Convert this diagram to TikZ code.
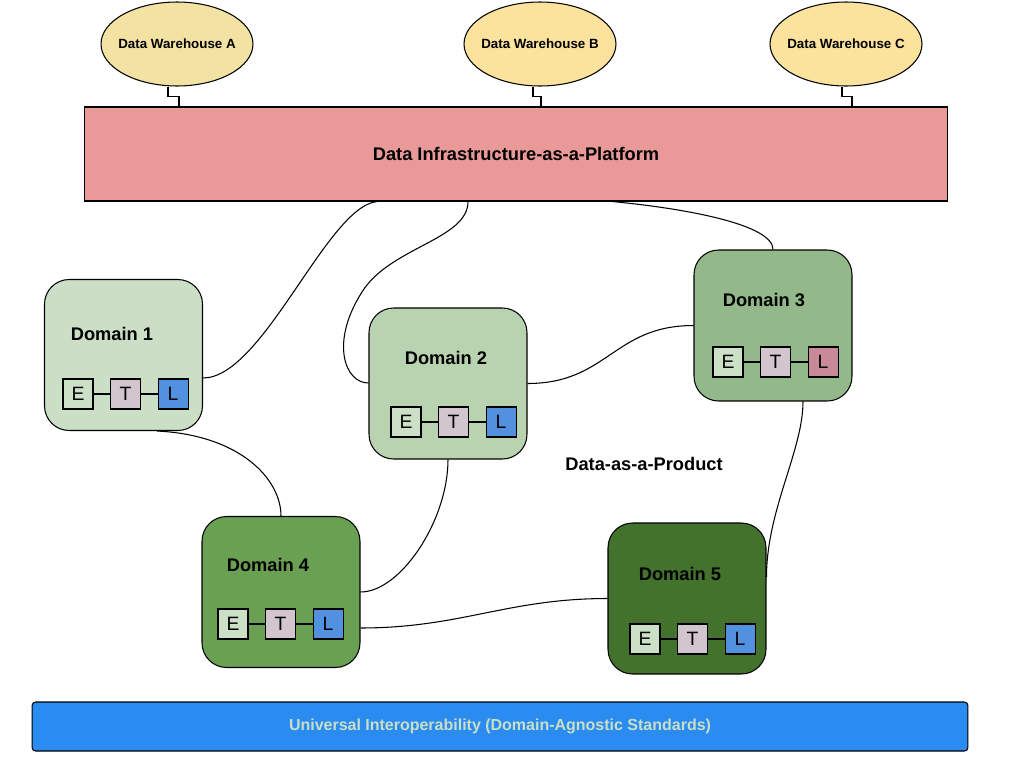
\documentclass[tikz,border=0pt]{standalone}
\usepackage{fontspec}
\setmainfont{Liberation Sans}
\usepackage{xcolor}
\usetikzlibrary{shapes.geometric, positioning, calc}
\definecolor{warehouseyellow}{HTML}{FBE39E}
\definecolor{warehousegreen}{HTML}{F3E3A2}
\definecolor{platformred}{HTML}{EA9999}
\definecolor{domainone}{HTML}{CADFC6}
\definecolor{domaintwo}{HTML}{B9D3B1}
\definecolor{domainthree}{HTML}{93B98A}
\definecolor{domainfour}{HTML}{6AA052}
\definecolor{domainfive}{HTML}{42722B}
\definecolor{extractgreen}{HTML}{CCE0C8}
\definecolor{transformgray}{HTML}{D3C5CD}
\definecolor{loadblue}{HTML}{5290E0}
\definecolor{loadred}{HTML}{C88A98}
\definecolor{barblue}{HTML}{2A8CF0}
\definecolor{bartext}{HTML}{C9DEC5}

\begin{document}
\begin{tikzpicture}[
    x=0.02cm, y=-0.02cm,
    line width=0.6pt,
    whouse/.style={
        ellipse, draw=black, fill=#1, inner sep=0pt,
        minimum width=3.04cm, minimum height=1.68cm
    },
    whtext/.style={font=\fontsize{7.6}{9}\selectfont\bfseries, inner sep=0pt},
    platform/.style={
        rectangle, draw=black, fill=platformred,
        minimum width=17.28cm, minimum height=1.88cm,
        font=\fontsize{10.4}{12}\selectfont\bfseries
    },
    domain/.style={
        rectangle, rounded corners=14pt, draw=black, fill=#1,
        minimum width=3.16cm, minimum height=3.02cm
    },
    domlabel/.style={font=\fontsize{10.4}{12}\selectfont\bfseries, inner sep=0pt},
    etlbox/.style={
        rectangle, draw=black, fill=#1, inner sep=0pt,
        minimum width=0.6cm, minimum height=0.6cm,
        font=\fontsize{11}{13}\selectfont
    },
    link/.style={draw=black, line width=0.6pt},
    bar/.style={
        rectangle, rounded corners=2pt, draw=black, fill=barblue,
        minimum width=18.72cm, minimum height=0.98cm,
        text=bartext, font=\fontsize{9.1}{11}\selectfont\bfseries
    }
]
\useasboundingbox (0,0) rectangle (1024,768);

% warehouses and the platform
\node[whouse=warehousegreen] (wha) at (177,44) {};
\node[whouse=warehouseyellow] (whb) at (540,44) {};
\node[whouse=warehouseyellow] (whc) at (846,44) {};
\node[whtext] (whatext) at (wha.center) {Data Warehouse A};
\node[whtext] (whbtext) at (whb.center) {Data Warehouse B};
\node[whtext] (whctext) at (whc.center) {Data Warehouse C};

\node[platform] (pf) at (516,154) {Data Infrastructure-as-a-Platform};

\coordinate (pfa) at ([xshift=0.04cm]wha.south |- pf.north);
\coordinate (pfb) at ([xshift=0.02cm]whb.south |- pf.north);
\coordinate (pfc) at ([xshift=0.12cm]whc.south |- pf.north);

\draw[link] ([xshift=-0.18cm]wha.south) |- ($([xshift=-0.18cm]wha.south)!0.5!(pfa)$) -| (pfa);
\draw[link] ([xshift=-0.14cm]whb.south) |- ($([xshift=-0.14cm]whb.south)!0.5!(pfb)$) -| (pfb);
\draw[link] ([xshift=-0.08cm]whc.south) |- ($([xshift=-0.08cm]whc.south)!0.5!(pfc)$) -| (pfc);

% domains
\node[domain=domainone] (d1) at (123.5,355) {};
\node[domain=domaintwo] (d2) at (448,383.5) {};
\node[domain=domainthree] (d3) at (773,325.5) {};
\node[domain=domainfour] (d4) at (281,592) {};
\node[domain=domainfive] (d5) at (687,598.5) {};

\node[domlabel] (d1lab) at (112,334) {Domain 1};
\node[domlabel] (d2lab) at (446,358) {Domain 2};
\node[domlabel] (d3lab) at (764,300) {Domain 3};
\node[domlabel] (d4lab) at (268,565) {Domain 4};
\node[domlabel] (d5lab) at (680,574) {Domain 5};

% E -- T -- L inside every domain
\foreach \d/\x/\y/\lc in {1/78/394/loadblue, 2/406/422/loadblue, 3/728/362/loadred, 4/233/624/loadblue, 5/645/639/loadblue} {
    \node[etlbox=extractgreen] (e\d) at (\x,\y) {E};
    \node[etlbox=transformgray, right=0.33cm of e\d] (t\d) {T};
    \node[etlbox=\lc, right=0.33cm of t\d] (l\d) {L};
    \draw[link] (e\d) -- (t\d);
    \draw[link] (t\d) -- (l\d);
}

\node[domlabel] (product) at (644,464) {Data-as-a-Product};

% mesh connections
\draw[link] ([xshift=-2.78cm]pf.south) .. controls +(-50,5) and +(60,0) .. ([yshift=-0.46cm]d1.east);
\draw[link] ([xshift=-0.96cm]pf.south) .. controls +(0,38) and +(28,-45) .. (362,292)
    .. controls +(-32,50) and +(-24,0) .. ([yshift=0.01cm]d2.west);
\draw[link] ([xshift=1.92cm]pf.south) .. controls +(74,7) and +(0,-25) .. (d3.north);
\draw[link] (d2.east) .. controls +(80,0) and +(-80,0) .. (d3.west);
\draw[link] ([xshift=0.67cm]d1.south) .. controls +(83,4) and +(0,-37) .. (d4.north);
\draw[link] (d2.south) .. controls +(0,61) and +(40,0) .. (d4.east);
\draw[link] ([yshift=-0.72cm]d4.east) .. controls +(100,0) and +(-100,0) .. (d5.west);
\draw[link] ([xshift=0.6cm]d3.south) .. controls +(0,49) and +(0,-67) .. ([yshift=0.43cm]d5.east);

% standards bar
\node[bar] (std) at (500,726.5) {Universal Interoperability (Domain-Agnostic Standards)};

\end{tikzpicture}
\end{document}
